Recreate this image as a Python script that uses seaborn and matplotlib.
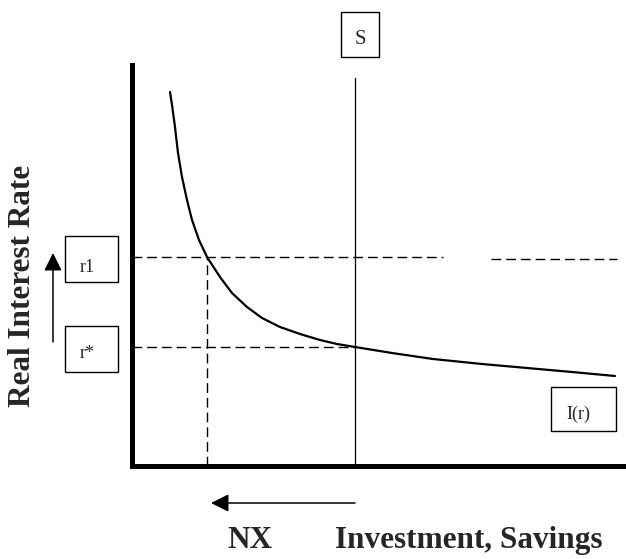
import seaborn as sns
import pandas as pd
import matplotlib.pyplot as plt
from matplotlib.patches import Rectangle

# investment demand curve I(r)
invest = [38, 40, 43, 46, 50, 55, 60, 67, 75, 88, 100, 115, 130, 148, 168, 188, 205, 223, 260, 301, 350, 395, 440, 483]
rate = [374, 361, 339, 313, 289, 266, 246, 226, 209, 189, 173, 159, 148, 139, 132, 126, 122, 119, 113, 107, 102, 98, 94, 90]

r1 = 209
r_star = 119
savings = 223
inv_at_r1 = 75
s_top = 388
r1_gap = (311, 359)
r1_end = 485

df = pd.DataFrame({'invest': invest, 'rate': rate})

W, H = 626, 559
sns.set_theme(style='white')
plt.rcParams['font.family'] = ['Liberation Serif', 'DejaVu Serif']

fig = plt.figure(figsize=(W / 100, H / 100), dpi=100)
ax = fig.add_axes([132 / W, (H - 466) / H, (W - 132) / W, (466 - 65) / H])

sns.lineplot(data=df, x='invest', y='rate', sort=False, estimator=None,
             color='black', lw=1.6, ax=ax)

dash = dict(color='black', lw=1, dashes=(7, 3.6))
ax.plot([0, r1_gap[0]], [r1, r1], **dash)
ax.plot([r1_gap[1], r1_end], [r1 - 2, r1 - 2], **dash)
ax.plot([0, savings], [r_star, r_star], **dash)
ax.plot([inv_at_r1, inv_at_r1], [0, r1], **dash)
ax.plot([savings, savings], [0, s_top], color='black', lw=0.9)

ax.set_xlim(0, 494)
ax.set_ylim(0, 401)
ax.set_xticks([])
ax.set_yticks([])
ax.set_xlabel('')
ax.set_ylabel('')
for side in ['top', 'right']:
    ax.spines[side].set_visible(False)
for side in ['left', 'bottom']:
    ax.spines[side].set_linewidth(3.6)
    ax.spines[side].set_color('black')
    ax.spines[side].set_capstyle('projecting')


def fx(px):
    return px / W


def fy(py):
    return 1 - py / H


def box(x0, y0, x1, y1):
    fig.patches.append(Rectangle((fx(x0), fy(y1)), fx(x1) - fx(x0), fy(y0) - fy(y1),
                                 transform=fig.transFigure, fill=False,
                                 ec='black', lw=1))


# labelled boxes
box(341, 12, 379, 57)
fig.text(fx(360), fy(40), 'S', ha='center', va='center', fontsize=15)
box(65, 236, 118, 282)
fig.text(fx(87), fy(268), 'r1', ha='center', va='center', fontsize=13)
box(65, 326, 118, 372)
fig.text(fx(87), fy(353), 'r*', ha='center', va='center', fontsize=13)
box(551, 387, 616, 431)
fig.text(fx(578), fy(414), 'I(r)', ha='center', va='center', fontsize=13)

# arrows
arrow = dict(arrowstyle='-|>,head_length=0.9,head_width=0.45', lw=1.1, color='black',
             shrinkA=0, shrinkB=0)
ax.annotate('', xy=(53, H - 253), xytext=(53, H - 342), xycoords='figure pixels',
            textcoords='figure pixels', arrowprops=arrow, annotation_clip=False)
ax.annotate('', xy=(211, H - 503), xytext=(355, H - 503), xycoords='figure pixels',
            textcoords='figure pixels', arrowprops=arrow, annotation_clip=False)

# axis titles
fig.text(fx(23), fy(286), 'Real Interest Rate', rotation=90, ha='center', va='center',
         fontsize=22.5, fontweight='bold')
fig.text(fx(227), fy(548), 'NX', ha='left', va='baseline', fontsize=22.5, fontweight='bold')
fig.text(fx(335), fy(548), 'Investment, Savings', ha='left', va='baseline',
         fontsize=22.5, fontweight='bold')

fig.savefig('out.png', dpi=100)
